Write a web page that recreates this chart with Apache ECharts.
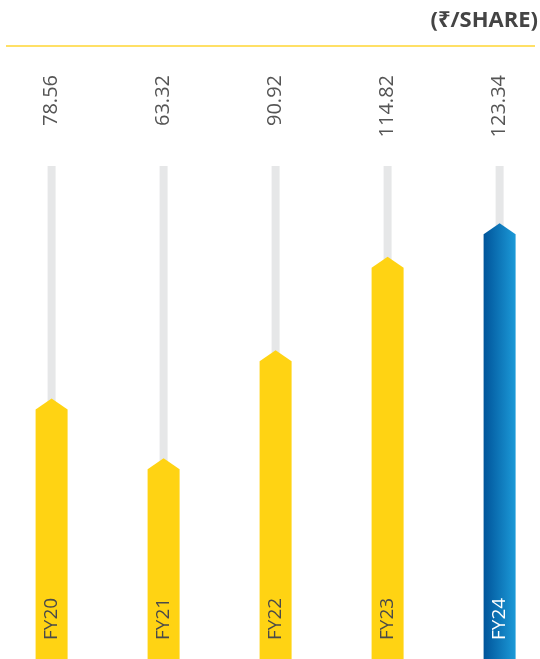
<!DOCTYPE html>
<html>
<head>
<meta charset="utf-8">
<style>
  html, body { margin: 0; padding: 0; background: #ffffff; }
  #chart { width: 540px; height: 659px; }
</style>
<script src="https://cdn.jsdelivr.net/npm/echarts@6/dist/echarts.min.js"></script>
</head>
<body>
<div id="chart"></div>
<script>
// Earnings per share by fiscal year (₹/share)
const categories = ['FY20', 'FY21', 'FY22', 'FY23', 'FY24'];
const epsValues = [78.56, 63.32, 90.92, 114.82, 123.34];
const valueLabels = ['78.56', '63.32', '90.92', '114.82', '123.34'];
const unitLabel = '(₹/SHARE)';

const AXIS_MIN = 12;
const AXIS_MAX = 138;
const FONT = "'Open Sans', 'Noto Sans', sans-serif";

const yellow = '#FFD313';
const blueGradient = new echarts.graphic.LinearGradient(0, 0, 1, 0, [
  { offset: 0, color: '#00549A' },
  { offset: 1, color: '#1C9AD8' }
]);

const chart = echarts.init(document.getElementById('chart'), null, { renderer: 'canvas' });

// One "pencil" per year: grey track up to the top, pointed bar up to the value
function renderPencil(params, api) {
  const idx = api.value(0);
  const val = api.value(1);
  const tip = api.coord([idx, val]);
  const base = api.coord([idx, AXIS_MIN]);
  const top = api.coord([idx, AXIS_MAX]);
  const cx = tip[0];
  const half = 16;
  const shoulder = 11;
  const isLast = idx === categories.length - 1;

  return {
    type: 'group',
    children: [
      {
        type: 'rect',
        shape: { x: cx - 4, y: top[1], width: 8, height: tip[1] - top[1] + 6 },
        style: { fill: '#E6E7E8' }
      },
      {
        type: 'polygon',
        shape: {
          points: [
            [cx - half, base[1]],
            [cx - half, tip[1] + shoulder],
            [cx, tip[1]],
            [cx + half, tip[1] + shoulder],
            [cx + half, base[1]]
          ]
        },
        style: { fill: isLast ? blueGradient : yellow }
      },
      {
        type: 'text',
        x: cx,
        y: 75,
        rotation: Math.PI / 2,
        style: {
          text: valueLabels[idx],
          align: 'right',
          verticalAlign: 'middle',
          fontSize: 20,
          fontFamily: FONT,
          fill: '#555555'
        }
      },
      {
        type: 'text',
        x: cx,
        y: 640,
        rotation: Math.PI / 2,
        style: {
          text: categories[idx],
          align: 'left',
          verticalAlign: 'middle',
          fontSize: 19,
          fontFamily: FONT,
          fill: isLast ? '#ffffff' : '#4a4a4a'
        }
      }
    ]
  };
}

chart.setOption({
  animation: false,
  title: {
    text: unitLabel,
    right: 0,
    top: 5,
    padding: [5, 2, 5, 5],
    textStyle: { fontSize: 22, fontWeight: 'bold', fontFamily: FONT, color: '#444444' }
  },
  graphic: [
    {
      type: 'line',
      shape: { x1: 6, y1: 46, x2: 535, y2: 46 },
      style: { stroke: '#FFE066', lineWidth: 2 }
    }
  ],
  grid: { left: 0, right: 0, top: 166, bottom: 0 },
  xAxis: {
    type: 'value',
    min: -0.4607,
    max: 4.3607,
    show: false
  },
  yAxis: {
    type: 'value',
    min: AXIS_MIN,
    max: AXIS_MAX,
    show: false
  },
  series: [
    {
      type: 'custom',
      name: 'EPS',
      renderItem: renderPencil,
      data: epsValues.map((v, i) => [i, v]),
      encode: { x: 0, y: 1 }
    }
  ]
});
</script>
</body>
</html>
